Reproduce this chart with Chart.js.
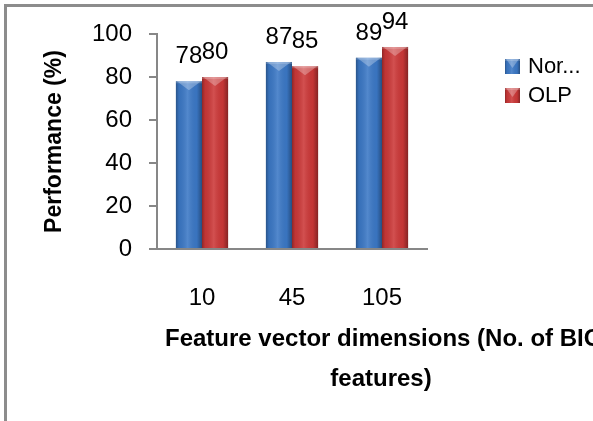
<!DOCTYPE html>
<html><head><meta charset="utf-8">
<script src="https://cdn.jsdelivr.net/npm/chart.js@4.4.1/dist/chart.umd.min.js"></script>
<style>html,body{margin:0;padding:0;background:#fff;overflow:hidden}</style>
</head><body>
<canvas id="c" width="593" height="421"></canvas>
<script>
const categories = ['10', '45', '105'];
const seriesNames = ['Nor...', 'OLP'];
const norValues = [78, 87, 89];
const olpValues = [80, 85, 94];
const yTickValues = [0, 20, 40, 60, 80, 100];
const yTitle = 'Performance (%)';
const xTitleLines = ['Feature vector dimensions (No. of BICO', 'features)'];
const seriesColors = ['#3b78c6', '#cc3838'];

const FONT = "'Liberation Sans', Arial, sans-serif";

const framePlugin = {
  id: 'frame',
  beforeDraw(chart) {
    const ctx = chart.ctx;
    ctx.save();
    ctx.fillStyle = '#fff';
    ctx.fillRect(0, 0, chart.width, chart.height);
    ctx.fillStyle = '#8c8c8c';
    ctx.fillRect(4, 4, chart.width - 4, 3);
    ctx.fillRect(4, 4, 3, chart.height - 4);
    ctx.restore();
  }
};

function shadeBar(ctx, l, top, w, h) {
  const r = l + w, x = l + w / 2;
  const g = ctx.createLinearGradient(l, 0, r, 0);
  g.addColorStop(0, 'rgba(0,0,0,0.30)');
  g.addColorStop(0.12, 'rgba(0,0,0,0.06)');
  g.addColorStop(0.45, 'rgba(255,255,255,0.12)');
  g.addColorStop(0.8, 'rgba(0,0,0,0.04)');
  g.addColorStop(1, 'rgba(0,0,0,0.35)');
  ctx.fillStyle = g;
  ctx.fillRect(l, top, w, h);
  ctx.fillStyle = 'rgba(255,255,255,0.28)';
  ctx.beginPath();
  ctx.moveTo(l + 1, top);
  ctx.lineTo(r - 1, top);
  ctx.lineTo(x, top + Math.min(9, h));
  ctx.closePath();
  ctx.fill();
  ctx.fillStyle = 'rgba(255,255,255,0.18)';
  ctx.fillRect(l, top, w, 2);
}

const barStylePlugin = {
  id: 'barStyle',
  afterDatasetsDraw(chart) {
    const ctx = chart.ctx;
    ctx.save();
    chart.data.datasets.forEach((ds, di) => {
      const meta = chart.getDatasetMeta(di);
      meta.data.forEach((bar, i) => {
        const p = bar.getProps(['x', 'y', 'base', 'width'], true);
        shadeBar(ctx, p.x - p.width / 2, p.y, p.width, p.base - p.y);
        ctx.fillStyle = '#000';
        ctx.font = '24px ' + FONT;
        ctx.textAlign = 'center';
        ctx.textBaseline = 'alphabetic';
        ctx.fillText(String(ds.data[i]), p.x, p.y - 18);
      });
    });
    ctx.restore();
  }
};

const legendTitlePlugin = {
  id: 'legendTitle',
  afterDraw(chart) {
    const ctx = chart.ctx;
    ctx.save();
    chart.data.datasets.forEach((ds, i) => {
      const cy = 66 + i * 29;
      ctx.fillStyle = ds.backgroundColor;
      ctx.fillRect(505, cy - 7, 15, 15);
      shadeBar(ctx, 505, cy - 7, 15, 15);
      ctx.fillStyle = '#000';
      ctx.font = '22px ' + FONT;
      ctx.textAlign = 'left';
      ctx.textBaseline = 'middle';
      ctx.fillText(ds.label, 528, cy + 1);
    });
    ctx.font = 'bold 24px ' + FONT;
    ctx.textBaseline = 'alphabetic';
    ctx.textAlign = 'left';
    ctx.fillText(xTitleLines[0], 165, 346);
    ctx.textAlign = 'center';
    ctx.fillText(xTitleLines[1], 381, 386);
    ctx.restore();
  }
};

new Chart(document.getElementById('c'), {
  type: 'bar',
  data: {
    labels: categories,
    datasets: [
      { label: seriesNames[0], data: norValues, backgroundColor: seriesColors[0], barPercentage: 1, categoryPercentage: 0.58 },
      { label: seriesNames[1], data: olpValues, backgroundColor: seriesColors[1], barPercentage: 1, categoryPercentage: 0.58 }
    ]
  },
  options: {
    responsive: false,
    animation: false,
    devicePixelRatio: 1,
    layout: { padding: { left: 41, right: 166, top: 34, bottom: 0 } },
    plugins: { legend: { display: false }, tooltip: { enabled: false } },
    scales: {
      x: {
        grid: { display: false },
        border: { display: true, color: '#878787', width: 2 },
        ticks: { color: '#000', font: { family: FONT, size: 24 }, padding: 27, maxRotation: 0 },
        afterFit(s) { s.height = 172; }
      },
      y: {
        min: 0, max: 100,
        afterBuildTicks(s) { s.ticks = yTickValues.map(v => ({ value: v })); },
        grid: { drawOnChartArea: false, drawTicks: true, tickLength: 8, color: '#878787', lineWidth: 2 },
        border: { display: true, color: '#878787', width: 2 },
        ticks: { color: '#000', font: { family: FONT, size: 24 }, padding: 17 },
        title: { display: true, text: yTitle, color: '#000', font: { family: FONT, size: 23, weight: 'bold' }, padding: 0 },
        afterFit(s) { s.width = 116; }
      }
    }
  },
  plugins: [framePlugin, barStylePlugin, legendTitlePlugin]
});
</script>
</body></html>
